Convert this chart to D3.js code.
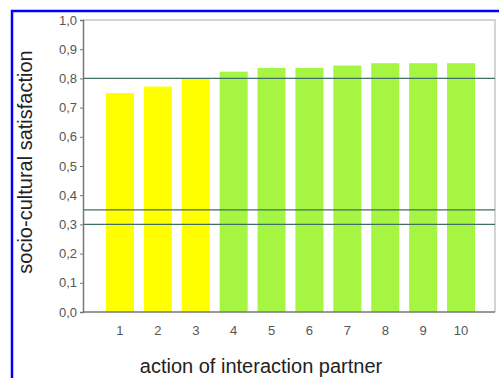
<!DOCTYPE html>
<html>
<head>
<meta charset="utf-8">
<script src="https://cdn.jsdelivr.net/npm/d3@7"></script>
<style>
  html, body { margin: 0; padding: 0; background: #fff; }
  svg { display: block; font-family: "Liberation Sans", Arial, sans-serif; }
</style>
</head>
<body>
<div id="chart"></div>
<script>
// data
const categories = ["1", "2", "3", "4", "5", "6", "7", "8", "9", "10"];
const satisfaction = [0.75, 0.772, 0.80, 0.823, 0.836, 0.836, 0.844, 0.852, 0.852, 0.852];
const barGroup = ["low", "low", "low", "high", "high", "high", "high", "high", "high", "high"];
const refLines = [0.8, 0.35, 0.3];
const yTicks = [0, 0.1, 0.2, 0.3, 0.4, 0.5, 0.6, 0.7, 0.8, 0.9, 1.0];

const W = 499, H = 378;
const plot = { left: 83, right: 495, top: 20, bottom: 312 };

const svg = d3.select("#chart").append("svg")
  .attr("width", W).attr("height", H);

// blue frame (runs off the picture right and bottom)
svg.append("rect")
  .attr("x", 12).attr("y", 11)
  .attr("width", W).attr("height", H)
  .attr("fill", "none").attr("stroke", "#0000ff").attr("stroke-width", 2.5);

const x = d3.scaleBand()
  .domain(categories)
  .range([101, 480])
  .paddingInner(0.26)
  .paddingOuter(0.13);

const y = d3.scaleLinear()
  .domain([0, 1])
  .range([plot.bottom, plot.top]);

const color = d3.scaleOrdinal()
  .domain(["low", "high"])
  .range(["#ffff00", "#a6f543"]);

// light plot box (top + right)
svg.append("path")
  .attr("d", `M${plot.left},${plot.top}H${plot.right}V${plot.bottom}`)
  .attr("fill", "none").attr("stroke", "#d4d4d4").attr("stroke-width", 2);

// bars
svg.append("g").selectAll("rect")
  .data(satisfaction).join("rect")
  .attr("x", (d, i) => x(categories[i]))
  .attr("y", d => y(d))
  .attr("width", x.bandwidth())
  .attr("height", d => y(0) - y(d))
  .attr("fill", (d, i) => color(barGroup[i]));

// reference lines
svg.append("g").selectAll("line")
  .data(refLines).join("line")
  .attr("x1", plot.left).attr("x2", plot.right)
  .attr("y1", d => y(d)).attr("y2", d => y(d))
  .attr("stroke", "#3f6f66").attr("stroke-width", 1.2);

// y axis
const yAxis = svg.append("g")
  .attr("transform", `translate(${plot.left},0)`)
  .call(d3.axisLeft(y).tickValues(yTicks).tickSize(3).tickPadding(3)
    .tickFormat(d => d3.format(".1f")(d).replace(".", ",")));
yAxis.select(".domain").attr("stroke", "#777").attr("stroke-width", 1.5);
yAxis.selectAll(".tick line").attr("stroke", "#777");
yAxis.selectAll("text").attr("font-size", 13).attr("fill", "#555")
  .attr("font-family", "Liberation Sans, Arial, sans-serif");

// x axis
const xAxis = svg.append("g")
  .attr("transform", `translate(0,${plot.bottom})`)
  .call(d3.axisBottom(x).tickSize(0).tickPadding(14));
xAxis.select(".domain").remove();
svg.append("line")
  .attr("x1", plot.left).attr("x2", plot.right)
  .attr("y1", plot.bottom).attr("y2", plot.bottom)
  .attr("stroke", "#777").attr("stroke-width", 1.5);
xAxis.selectAll("text").attr("font-size", 13).attr("fill", "#555")
  .attr("font-family", "Liberation Sans, Arial, sans-serif");

// axis titles
svg.append("text")
  .attr("x", 261).attr("y", 373)
  .attr("text-anchor", "middle")
  .attr("font-size", 20).attr("fill", "#222")
  .text("action of interaction partner");

svg.append("text")
  .attr("transform", "translate(32,162) rotate(-90)")
  .attr("text-anchor", "middle")
  .attr("font-size", 20).attr("fill", "#222")
  .text("socio-cultural satisfaction");
</script>
</body>
</html>
